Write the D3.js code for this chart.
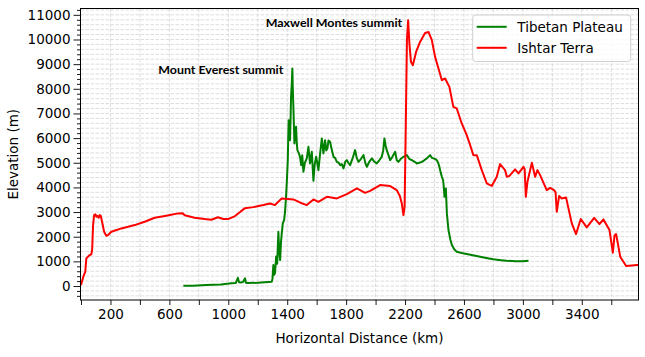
<!DOCTYPE html>
<html><head><meta charset="utf-8">
<script src="https://cdn.jsdelivr.net/npm/d3@7"></script>
<style>body{margin:0;background:#fff}svg{display:block}</style>
</head><body>
<svg id="c" width="645" height="357"></svg>
<script>
// ---- data ----
const seriesNames = ["Tibetan Plateau", "Ishtar Terra"];
const seriesColors = ["#008000", "#ff0000"];
const xTickLabels = [200, 600, 1000, 1400, 1800, 2200, 2600, 3000, 3400];
const yTickLabels = [0,1000,2000,3000,4000,5000,6000,7000,8000,9000,10000,11000];

const tibetDist = [695,760,850,950,1021,1050,1065,1073,1085,1100,1114,1120,1130,1200,1295,1300,1306,1310,1317,1325,1332,1340,1346,1352,1358,1363,1370,1379,1385,1392,1398,1404,1407,1410,1414,1419,1423,1426,1431,1435,1438,1442,1449,1455,1460,1465,1469,1478,1487,1495,1502,1510,1520,1533,1544,1555,1567,1578,1586,1596,1604,1612,1622,1635,1646,1657,1665,1673,1680,1691,1700,1714,1725,1737,1750,1759,1770,1782,1795,1805,1815,1827,1845,1861,1872,1884,1900,1918,1930,1941,1958,1975,1990,2008,2025,2042,2052,2060,2068,2076,2088,2099,2115,2133,2144,2155,2170,2189,2212,2230,2246,2263,2280,2297,2314,2330,2348,2360,2370,2382,2393,2405,2415,2425,2433,2442,2450,2458,2461,2468,2477,2484,2495,2507,2518,2535,2551,2585,2619,2660,2710,2760,2800,2850,2891,2950,3000,3038];
const tibetElev = [10,15,40,60,109,120,330,150,140,160,312,130,120,130,174,300,851,450,515,1200,900,2200,1400,1054,1800,2136,2541,2675,3000,3619,4300,5107,6000,6728,6200,5917,6800,7672,8200,8823,8000,7267,5782,6200,6457,5800,5512,5400,5241,4900,5300,4633,5000,5176,5646,4973,5443,4268,4900,5241,5000,4701,5300,5986,5378,5917,5500,5581,5900,5849,5600,5241,5200,5038,5000,4904,4950,4770,5050,5107,5000,4904,5200,5512,5200,5038,5150,5309,5000,4835,5050,5176,5050,4973,5100,5241,5500,5986,5700,5512,5300,5107,5250,5443,5100,5038,5150,5241,5309,5150,5107,5050,4973,5000,5038,5100,5176,5250,5309,5200,5176,5150,5107,5000,4835,4600,4430,4300,4162,3619,3960,2946,2270,1900,1662,1480,1390,1340,1297,1250,1188,1130,1082,1050,1025,1000,1005,1025];

const ishtarDist = [0,16,29,36,59,70,76,82,89,98,104,111,120,127,134,143,157,172,184,206,274,365,432,500,560,604,659,690,704,772,840,885,930,965,998,1046,1080,1111,1170,1238,1283,1317,1363,1442,1490,1533,1578,1612,1669,1737,1805,1873,1929,1963,2031,2099,2144,2165,2178,2189,2197,2205,2213,2221,2230,2240,2253,2275,2302,2336,2359,2382,2404,2427,2450,2472,2501,2528,2551,2585,2619,2642,2664,2687,2721,2755,2777,2789,2823,2845,2879,2891,2909,2947,2970,3004,3012,3020,3031,3061,3083,3099,3117,3162,3185,3212,3222,3230,3246,3264,3293,3332,3361,3393,3434,3484,3520,3547,3588,3611,3622,3633,3661,3701,3740,3774,3785];
const ishtarElev = [40,377,580,1120,1256,1284,1500,2472,2878,2906,2809,2850,2768,2878,2850,2606,2200,2039,2067,2200,2337,2472,2606,2768,2830,2880,2946,2950,2870,2768,2715,2690,2790,2720,2715,2837,3000,3150,3200,3283,3350,3283,3554,3514,3380,3283,3514,3416,3619,3554,3729,3960,3781,3862,4093,4053,3891,3650,3350,2878,3200,6500,10000,10780,9800,9100,8957,9496,9901,10266,10307,9970,9294,8823,8349,8418,8078,7267,7202,6594,6120,5714,5309,5309,4701,4162,4093,4060,4430,4945,4701,4430,4470,4730,4567,4835,4750,3619,4228,4997,4430,4701,4499,3891,3984,3891,3800,3011,3648,3554,3595,2541,2108,2716,2379,2768,2513,2703,2270,1350,2050,2108,1188,811,830,851,851];

const annotations = ["Mount Everest summit", "Maxwell Montes summit"];

// ---- layout ----
const L = 80.5, R = 638.5, T = 8.5, B = 300;
const svg = d3.select("#c");
const x = d3.scaleLinear().domain([0, 3785]).range([81, 638.5]);
const y = d3.scaleLinear().domain([-567, 11257]).range([B, T]);

const FONT = "'DejaVu Sans', sans-serif";

// grid
const gx = d3.range(200, 3785, 200);
const gy = d3.range(-400, 11257, 200);
svg.append("g").selectAll("line").data(gx).join("line")
  .attr("x1", d => x(d)).attr("x2", d => x(d)).attr("y1", T).attr("y2", B)
  .attr("stroke", "#d4d4d4").attr("stroke-width", 0.8).attr("stroke-dasharray", "3.5,1.5");
svg.append("g").selectAll("line").data(gy).join("line")
  .attr("y1", d => y(d)).attr("y2", d => y(d)).attr("x1", L).attr("x2", R)
  .attr("stroke", "#d4d4d4").attr("stroke-width", 0.8).attr("stroke-dasharray", "3.5,1.5");

// lines
const line = d3.line().x(d => x(d[0])).y(d => y(d[1]));
const clip = svg.append("clipPath").attr("id", "clp").append("rect")
  .attr("x", L).attr("y", T).attr("width", R - L).attr("height", B - T);
const tibet = tibetDist.map((d, i) => [d, tibetElev[i]]);
const ishtar = ishtarDist.map((d, i) => [d, ishtarElev[i]]);
const lg = svg.append("g").attr("clip-path", "url(#clp)");
lg.append("path").datum(tibet).attr("d", line).attr("fill", "none")
  .attr("stroke", seriesColors[0]).attr("stroke-width", 2).attr("stroke-linejoin", "round");
lg.append("path").datum(ishtar).attr("d", line).attr("fill", "none")
  .attr("stroke", seriesColors[1]).attr("stroke-width", 2).attr("stroke-linejoin", "round");

// axes
const xAxis = d3.axisBottom(x).tickValues(xTickLabels).tickSize(5).tickPadding(4).tickFormat(d3.format("d"));
const gxa = svg.append("g").attr("transform", `translate(0,${B})`).call(xAxis);
const xMinor = d3.axisBottom(x).tickValues(d3.range(0, 3785, 400)).tickSize(5).tickFormat("");
svg.append("g").attr("transform", `translate(0,${B})`).call(xMinor).select(".domain").remove();
const yAxis = d3.axisLeft(y).tickValues(yTickLabels).tickSize(7).tickPadding(3).tickFormat(d3.format("d"));
const gya = svg.append("g").attr("transform", `translate(${L},0)`).call(yAxis);
const yMinor = d3.axisLeft(y).tickValues(d3.range(-400, 11257, 200).filter(v => v % 1000 !== 0)).tickSize(3.5).tickFormat("");
svg.append("g").attr("transform", `translate(${L},0)`).call(yMinor).select(".domain").remove();
svg.selectAll(".domain").remove();
svg.selectAll(".tick line").attr("stroke", "#000").attr("stroke-width", 0.9);
svg.selectAll(".tick text").attr("font-family", FONT).attr("font-size", "13.5px").attr("fill", "#000");

// frame
svg.append("rect").attr("x", L).attr("y", T).attr("width", R - L).attr("height", B - T)
  .attr("fill", "none").attr("stroke", "#000").attr("stroke-width", 1);

// axis labels
svg.append("text").attr("x", (L + R) / 2).attr("y", 342.5).attr("text-anchor", "middle")
  .attr("font-family", FONT).attr("font-size", "13.5px").text("Horizontal Distance (km)");
svg.append("text").attr("transform", `translate(18,${(T + B) / 2}) rotate(-90)`).attr("text-anchor", "middle")
  .attr("font-family", FONT).attr("font-size", "13.5px").text("Elevation (m)");

// annotations
svg.append("text").attr("x", 158.3).attr("y", 74.3).attr("font-family", "Lato, 'Open Sans', sans-serif")
  .attr("font-weight", "bold").attr("font-size", "11px").attr("textLength", 125).attr("lengthAdjust", "spacingAndGlyphs")
  .text(annotations[0]);
svg.append("text").attr("x", 265.7).attr("y", 26.6).attr("font-family", "Lato, 'Open Sans', sans-serif")
  .attr("font-weight", "bold").attr("font-size", "11px").attr("textLength", 136.5).attr("lengthAdjust", "spacingAndGlyphs")
  .text(annotations[1]);

// legend
const lgd = svg.append("g");
lgd.append("rect").attr("x", 472.7).attr("y", 15).attr("width", 158).attr("height", 46.5).attr("rx", 3)
  .attr("fill", "#fff").attr("fill-opacity", 0.8).attr("stroke", "#d0d0d0").attr("stroke-width", 1);
seriesNames.forEach((n, i) => {
  const yy = 26.8 + i * 21;
  lgd.append("line").attr("x1", 476.7).attr("x2", 506.7).attr("y1", yy).attr("y2", yy)
    .attr("stroke", seriesColors[i]).attr("stroke-width", 2);
  lgd.append("text").attr("x", 517.3).attr("y", yy + 5).attr("font-family", FONT).attr("font-size", "13.5px").text(n);
});
</script>
</body></html>
